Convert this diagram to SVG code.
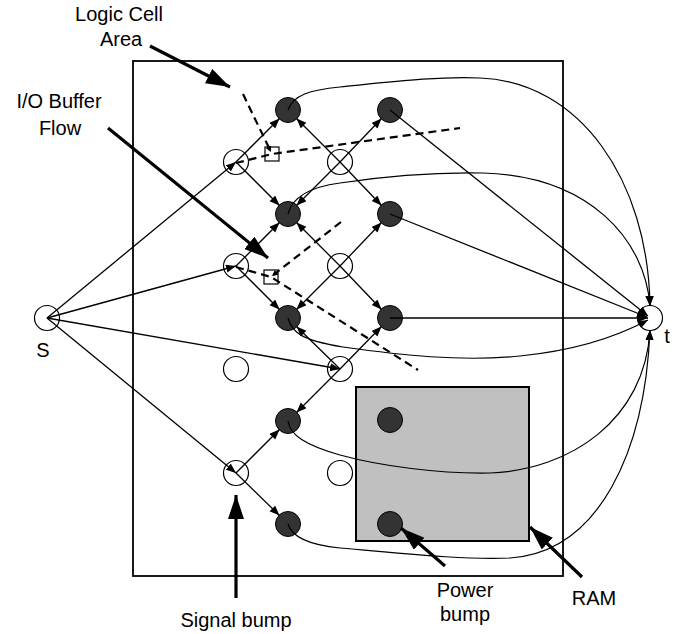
<svg xmlns="http://www.w3.org/2000/svg" width="680" height="634" viewBox="0 0 680 634">
<defs>
<marker id="ah" markerUnits="userSpaceOnUse" markerWidth="12" markerHeight="10" refX="10" refY="4" orient="auto">
<path d="M0,0 L10,4 L0,8 Z" fill="#000"/>
</marker>
<marker id="sh" markerUnits="userSpaceOnUse" markerWidth="8" markerHeight="8" refX="6" refY="3" orient="auto">
<path d="M0,0 L6,3 L0,6 Z" fill="#000"/>
</marker>
<marker id="big" markerUnits="userSpaceOnUse" markerWidth="26" markerHeight="18" refX="24" refY="8" orient="auto">
<path d="M0,0 L24,8 L0,16 Z" fill="#000"/>
</marker>
<style>
.frame{fill:none;stroke:#000;stroke-width:1.8}
.ram{fill:#c0c0c0;stroke:#000;stroke-width:2}
.dark{fill:#333;stroke:#000;stroke-width:1}
.open{fill:#fff;stroke:#000;stroke-width:1.2}
.e{fill:none;stroke:#000;stroke-width:1.3;marker-end:url(#ah)}
.c{fill:none;stroke:#000;stroke-width:1.2;marker-end:url(#ah)}
.d{fill:none;stroke:#000;stroke-width:2.2;stroke-dasharray:8 5}
.box{fill:#fff;stroke:#000;stroke-width:1.2}
.thick{fill:none;stroke:#000;stroke-width:3.2;marker-end:url(#big)}
.t{font-family:"Liberation Sans",Arial,sans-serif;font-size:20px;fill:#000;text-anchor:middle}
</style>
</defs>
<rect width="680" height="634" fill="#fff"/>
<g id="chip"><rect class="frame" x="133" y="61" width="430" height="515"/></g>
<g id="ram"><rect class="ram" x="356" y="387" width="173" height="154"/></g>

<g id="S"><circle class="open" cx="47" cy="318" r="12.5"/></g>
<g id="t"><circle class="open" cx="650" cy="318" r="12.5"/></g>
<g id="O1"><circle class="open" cx="236" cy="162" r="12.5"/></g>
<g id="O2"><circle class="open" cx="340" cy="162" r="12.5"/></g>
<g id="O3"><circle class="open" cx="236" cy="266" r="12.5"/></g>
<g id="O4"><circle class="open" cx="340" cy="266" r="12.5"/></g>
<g id="O5"><circle class="open" cx="236" cy="369" r="12.5"/></g>
<g id="O6"><circle class="open" cx="340" cy="369" r="12.5"/></g>
<g id="O7"><circle class="open" cx="236" cy="473" r="12.5"/></g>
<g id="O8"><circle class="open" cx="340" cy="473" r="12.5"/></g>
<g id="D1"><circle class="dark" cx="288" cy="110" r="12.5"/></g>
<g id="D2"><circle class="dark" cx="390" cy="110" r="12.5"/></g>
<g id="D3"><circle class="dark" cx="288" cy="214" r="12.5"/></g>
<g id="D4"><circle class="dark" cx="390" cy="214" r="12.5"/></g>
<g id="D5"><circle class="dark" cx="288" cy="318" r="12.5"/></g>
<g id="D6"><circle class="dark" cx="390" cy="318" r="12.5"/></g>
<g id="D7"><circle class="dark" cx="288" cy="421" r="12.5"/></g>
<g id="D8"><circle class="dark" cx="288" cy="524" r="12.5"/></g>
<g id="P1"><circle class="dark" cx="390" cy="420" r="12.5"/></g>
<g id="P2"><circle class="dark" cx="390" cy="524" r="12.5"/></g>
<g id="B1"><rect class="box" x="265" y="147" width="14" height="14"/></g>
<g id="B2"><rect class="box" x="264" y="270" width="14" height="14"/></g>

<g id="connectors">
<path class="e" d="M47,318 L236,162"/>
<path class="e" d="M47,318 L236,266"/>
<path class="e" d="M47,318 L340,369"/>
<path class="e" d="M47,318 L236,473"/>
<path class="e" d="M236,162 L279.5,118.5"/>
<path class="e" d="M236,162 L279.5,205.5"/>
<path class="e" d="M340,162 L296.5,118.5"/>
<path class="e" d="M340,162 L381.5,118.5"/>
<path class="e" d="M340,162 L296.5,205.5"/>
<path class="e" d="M340,162 L381.5,205.5"/>
<path class="e" d="M236,266 L279.5,222.5"/>
<path class="e" d="M236,266 L279.5,309.5"/>
<path class="e" d="M340,266 L296.5,222.5"/>
<path class="e" d="M340,266 L381.5,222.5"/>
<path class="e" d="M340,266 L296.5,309.5"/>
<path class="e" d="M340,266 L381.5,309.5"/>
<path class="e" d="M340,369 L296.5,326.5"/>
<path class="e" d="M340,369 L381.5,326.5"/>
<path class="e" d="M340,369 L296.5,412.5"/>
<path class="e" d="M236,473 L279.5,429.5"/>
<path class="e" d="M236,473 L279.5,515.5"/>
<path class="e" d="M390,110 L648,316"/>
<path class="e" d="M390,214 L647,317"/>
<path class="e" d="M390,318 L648,318"/>
<path class="c" d="M288,110 C293,95 310,90 340,87 C390,82 440,76 480,78 C580,82 648,180 650,306"/>
<path class="c" d="M288,214 C292,198 310,187 340,183 C380,177 430,172 483,173 C590,176 645,240 650,306"/>
<path class="c" d="M288,318 C292,332 300,340 343,347 C400,355 460,362 520,356 C580,350 620,335 648,320"/>
<path class="c" d="M288,421 C290,435 305,445 340,455 C380,466 440,474 490,473 C570,470 645,420 650,330"/>
<path class="c" d="M288,524 C292,538 310,545 340,548 C400,553 460,560 510,558 C600,552 645,450 650,330"/>
<polyline class="d" points="236,163 272,154 460,128"/>
<polyline class="d" points="236,267 271,277 418,370"/>
<path class="d" d="M243,94 L271,152" marker-end="url(#sh)"/>
<path class="d" d="M341,222 L272,276" marker-end="url(#sh)"/>
<path class="thick" d="M150,46 L230,87"/>
<path class="thick" d="M108,128 L268,258"/>
<path class="thick" d="M236,598 L236,495"/>
<path class="thick" d="M445,566 L401,528"/>
<path class="thick" d="M582,577 L530,527"/>
</g>

<g id="labels">
<text class="t" x="119" y="21">Logic Cell</text>
<text class="t" x="121" y="46">Area</text>
<text class="t" x="59" y="108">I/O Buffer</text>
<text class="t" x="60" y="135">Flow</text>
<text class="t" x="43" y="357">S</text>
<text class="t" x="667" y="343">t</text>
<text class="t" x="236" y="627">Signal bump</text>
<text class="t" x="465" y="597">Power</text>
<text class="t" x="465" y="621">bump</text>
<text class="t" x="594" y="605">RAM</text>
</g>
</svg>
